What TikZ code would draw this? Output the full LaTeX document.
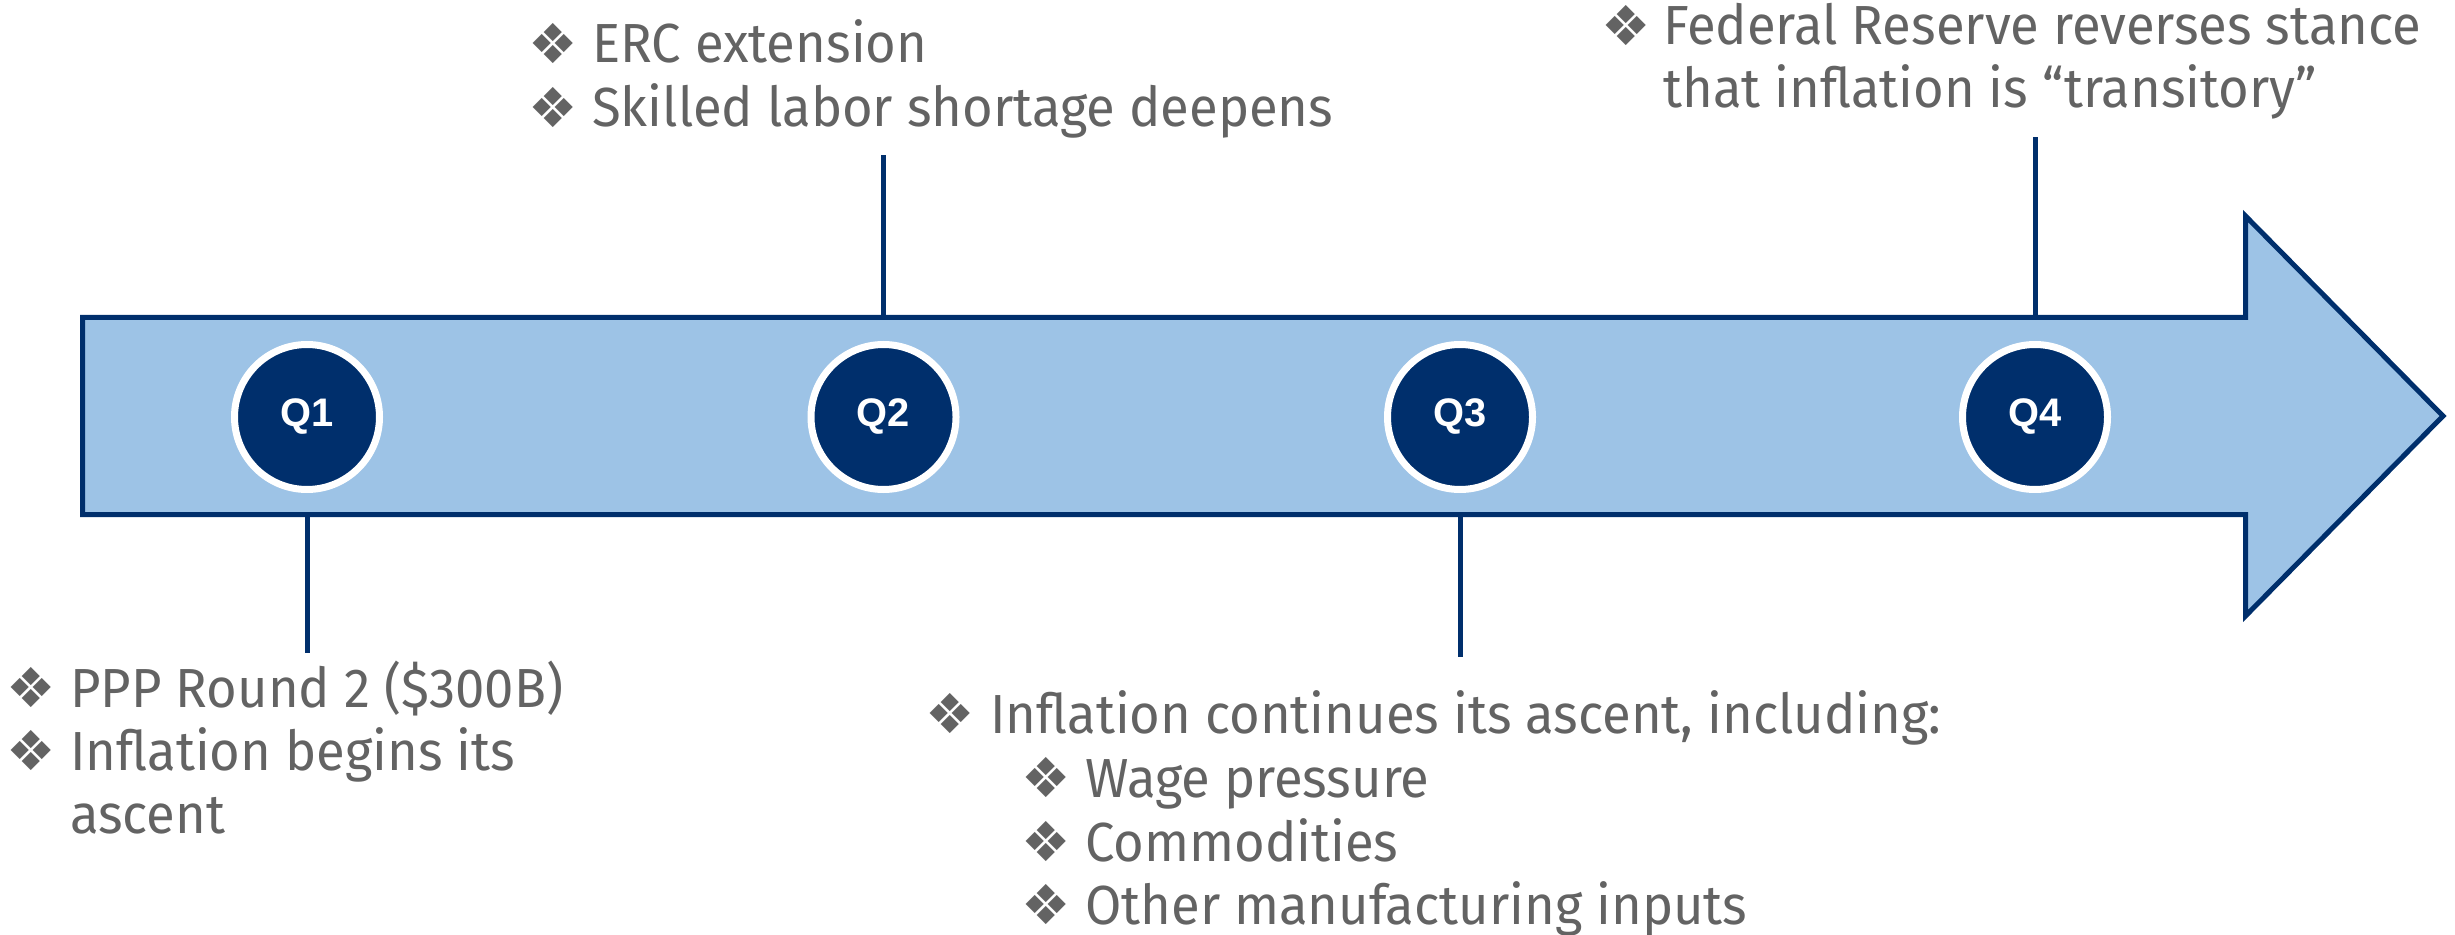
\documentclass[tikz,border=0pt]{standalone}
\usepackage{fontspec}
\setmainfont{Fira Sans}[FakeStretch=0.955]
\newfontfamily\qfont{Liberation Sans}
\newfontfamily\symfont{DejaVu Sans}
\usetikzlibrary{calc}

\definecolor{navy}{HTML}{002F6C}
\definecolor{lightblue}{HTML}{9DC3E6}
\definecolor{txtgray}{HTML}{636363}

\tikzset{
  timeline/.style={fill=lightblue, draw=navy, line width=0.15cm, line join=miter},
  quarter/.style={circle, fill=navy, draw=white, line width=0.21cm,
    minimum size=4.35cm, inner sep=0pt, text=white,
    font=\qfont\bfseries\fontsize{34}{34}\selectfont},
  tick/.style={draw=navy, line width=0.15cm},
  txt/.style={anchor=base west, inner sep=0pt, text=txtgray,
    font=\fontsize{47}{54}\selectfont},
  dia/.style={anchor=center, inner sep=0pt, text=txtgray,
    font=\symfont\fontsize{47}{47}\selectfont}
}

\begin{document}
\begin{tikzpicture}[x=0.03cm, y=-0.03cm]
\useasboundingbox (0,0) rectangle (2455,935);

% timeline arrow
\draw[timeline] (82.5,317.5) -- (2245.5,317.5) -- (2245.5,216) -- (2443,416)
  -- (2245.5,616) -- (2245.5,514.5) -- (82.5,514.5) -- cycle;
\coordinate (bodytop) at (0,317.5);
\coordinate (bodybot) at (0,514.5);

% quarter markers
\node[quarter] (Q1) at (307,417) {Q1};
\node[quarter] (Q2) at (883.5,417) {Q2};
\node[quarter] (Q3) at (1460,417) {Q3};
\node[quarter] (Q4) at (2035,417) {Q4};

% ends of the callout ticks
\coordinate (e1) at (307,653);
\coordinate (e2) at (883.5,155);
\coordinate (e3) at (1460,657);
\coordinate (e4) at (2035,137);

\draw[tick] (Q1 |- bodybot) -- (e1);
\draw[tick] (Q2 |- bodytop) -- (e2);
\draw[tick] (Q3 |- bodybot) -- (e3);
\draw[tick] (Q4 |- bodytop) -- (e4);

% Q1 notes
\node[dia] (b1a) at (31.5,688) {❖};
\node[txt] (t1a) at (70,707) {PPP Round 2 (\$300B)};
\node[dia] (b1b) at (31.5,751) {❖};
\node[txt] (t1b) at (70,770) {Inflation begins its};
\node[txt] (t1c) at (70,833) {ascent};

% Q2 notes
\node[dia] (b2a) at (553.5,44) {❖};
\node[txt] (t2a) at (592,63) {ERC extension};
\node[dia] (b2b) at (553.5,108) {❖};
\node[txt] (t2b) at (592,127) {Skilled labor shortage deepens};

% Q3 notes
\node[dia] (b3a) at (950,714) {❖};
\node[txt] (t3a) at (990,733) {Inflation continues its ascent, including:};
\node[dia] (b3b) at (1046,778) {❖};
\node[txt] (t3b) at (1085,797) {Wage pressure};
\node[dia] (b3c) at (1046,842) {❖};
\node[txt] (t3c) at (1085,861) {Commodities};
\node[dia] (b3d) at (1046,905) {❖};
\node[txt] (t3d) at (1085,924) {Other manufacturing inputs};

% Q4 notes
\node[dia] (b4a) at (1626,26) {❖};
\node[txt] (t4a) at (1663,45) {Federal Reserve reverses stance};
\node[txt] (t4b) at (1663,108) {that inflation is “transitory”};
\end{tikzpicture}
\end{document}
